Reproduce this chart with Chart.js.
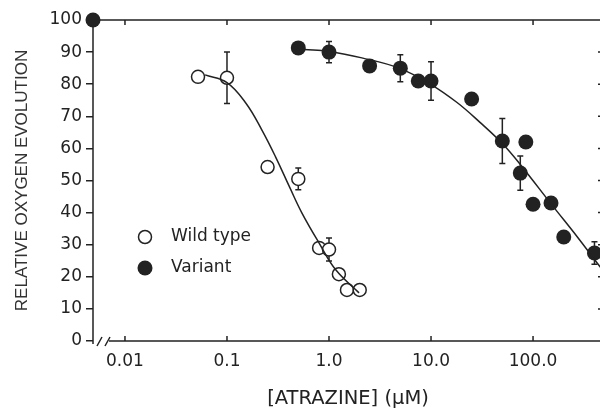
<!DOCTYPE html>
<html>
<head>
<meta charset="utf-8">
<script src="https://cdn.jsdelivr.net/npm/chart.js@4"></script>
<style>
  html, body { margin: 0; padding: 0; background: #fff; overflow: hidden; }
  #wrap { width: 600px; height: 412px; overflow: hidden; }
</style>
</head>
<body>
<div id="wrap"><canvas id="atrazineChart" width="611" height="412"></canvas></div>
<script>
// -- Axis ranges and ticks --
const xMin = 0.00486
const xMax = 485
const xTicks = [0.01, 0.1, 1, 10, 100]
const xTickLabels = ["0.01", "0.1", "1.0", "10.0", "100.0"]
const yTicks = [0, 10, 20, 30, 40, 50, 60, 70, 80, 90, 100]

// -- Measured points --
const wildX = [0.052, 0.1, 0.25, 0.5, 0.8, 1.0, 1.25, 1.5, 2.0]
const wildY = [82.3, 82, 54.2, 50.5, 29, 28.5, 20.8, 15.9, 15.9]
const wildErr = [0, 8, 0, 3.4, 0, 3.6, 0, 0, 0]

// first variant point is the no-atrazine control, plotted on the axis
const variantX = [xMin, 0.5, 1.0, 2.5, 5, 7.5, 10, 25, 50, 85, 75, 100, 150, 200, 400]
const variantY = [100, 91.3, 90, 85.7, 85, 81, 81, 75.4, 62.3, 62, 52.3, 42.6, 43, 32.4, 27.4]
const variantErr = [0, 0, 3.3, 0, 4.2, 0, 6, 0, 7, 0, 5.3, 0, 0, 0, 3.5]

// -- Fitted curves --
const wildFitX = [0.061, 0.1, 0.154, 0.22, 0.30, 0.41, 0.54, 0.80, 1.17, 1.97]
const wildFitY = [82.9, 80.5, 74, 65.7, 57.3, 48, 40, 30.5, 22.1, 15]
const variantFitX = [0.57, 1.0, 2.1, 4.86, 10, 18, 30, 50.8, 78, 153, 272, 425, 485]
const variantFitY = [90.8, 90.2, 88.2, 85, 79.9, 74.3, 68.2, 61.3, 54.3, 42.4, 32.4, 24.3, 22]

const ink = "#222"
const font = "'DejaVu Sans', sans-serif"

let toPoints = function(xs, ys) {
  return xs.map((x, i) => ({ x: x, y: ys[i] }))
}

// -- Plugins --
let errorBars = {
  id: "errorBars",
  beforeDatasetsDraw(chart) {
    const { ctx, scales: { x, y } } = chart
    ctx.save()
    ctx.strokeStyle = ink
    ctx.lineWidth = 1.5
    let draw = function(xs, ys, errs) {
      errs.forEach((e, i) => {
        if (!e) return
        let px = x.getPixelForValue(xs[i])
        let top = y.getPixelForValue(ys[i] + e)
        let bot = y.getPixelForValue(ys[i] - e)
        ctx.beginPath()
        ctx.moveTo(px, top); ctx.lineTo(px, bot)
        ctx.moveTo(px - 3, top); ctx.lineTo(px + 3, top)
        ctx.moveTo(px - 3, bot); ctx.lineTo(px + 3, bot)
        ctx.stroke()
      })
    }
    draw(wildX, wildY, wildErr)
    draw(variantX, variantY, variantErr)
    ctx.restore()
  }
}

let frame = {
  id: "frame",
  beforeDatasetsDraw(chart) {
    const { ctx, chartArea: a, scales: { x, y } } = chart
    ctx.save()
    ctx.strokeStyle = ink
    ctx.lineWidth = 1.5
    ctx.beginPath()
    // top, right, left
    ctx.moveTo(a.left, a.top); ctx.lineTo(a.right, a.top)
    ctx.lineTo(a.right, a.bottom)
    ctx.moveTo(a.left, a.top); ctx.lineTo(a.left, a.bottom + 3)
    // bottom with axis break
    ctx.moveTo(a.left + 16, a.bottom); ctx.lineTo(a.right, a.bottom)
    ctx.moveTo(a.left + 4, a.bottom + 5); ctx.lineTo(a.left + 9, a.bottom - 4)
    ctx.moveTo(a.left + 12, a.bottom + 5); ctx.lineTo(a.left + 17, a.bottom - 4)
    // inward ticks
    for (let v of xTicks) {
      let px = x.getPixelForValue(v)
      ctx.moveTo(px, a.bottom); ctx.lineTo(px, a.bottom - 5)
      ctx.moveTo(px, a.top); ctx.lineTo(px, a.top + 5)
    }
    for (let v of yTicks) {
      let py = y.getPixelForValue(v)
      ctx.moveTo(a.right, py); ctx.lineTo(a.right - 5, py)
    }
    ctx.stroke()
    ctx.restore()
  }
}

let legendBox = {
  id: "legendBox",
  afterDraw(chart) {
    const { ctx, chartArea: a } = chart
    let mx = a.left + 52
    ctx.save()
    ctx.strokeStyle = ink
    ctx.fillStyle = ink
    ctx.lineWidth = 1.5
    ctx.beginPath()
    ctx.arc(mx, 237, 6.5, 0, Math.PI * 2)
    ctx.stroke()
    ctx.beginPath()
    ctx.arc(mx, 268, 7.5, 0, Math.PI * 2)
    ctx.fill()
    ctx.font = "17px " + font
    ctx.textBaseline = "middle"
    ctx.fillText("Wild type", mx + 26, 237)
    ctx.fillText("Variant", mx + 26, 268)
    ctx.restore()
  }
}

// -- Chart --
let ctx = document.getElementById("atrazineChart")
let chart = new Chart(ctx, {
  type: "scatter",
  data: {
    datasets: [
      {
        label: "Wild type fit",
        type: "line",
        data: toPoints(wildFitX, wildFitY),
        borderColor: ink,
        borderWidth: 1.5,
        pointRadius: 0,
        tension: 0.4,
        order: 0
      },
      {
        label: "Variant fit",
        type: "line",
        data: toPoints(variantFitX, variantFitY),
        borderColor: ink,
        borderWidth: 1.5,
        pointRadius: 0,
        tension: 0.4,
        order: 0
      },
      {
        label: "Wild type",
        data: toPoints(wildX, wildY),
        pointRadius: 6.5,
        pointBorderWidth: 1.5,
        pointBorderColor: ink,
        pointBackgroundColor: "#fff",
        order: 1
      },
      {
        label: "Variant",
        data: toPoints(variantX, variantY),
        pointRadius: 7.5,
        pointBorderWidth: 0,
        pointBackgroundColor: ink,
        clip: false,
        order: 1
      }
    ]
  },
  options: {
    responsive: false,
    animation: false,
    devicePixelRatio: 1,
    layout: { padding: { top: 20, right: 3, left: 0, bottom: 0 } },
    plugins: {
      legend: { display: false },
      tooltip: { enabled: false }
    },
    scales: {
      x: {
        type: "logarithmic",
        min: xMin,
        max: xMax,
        afterBuildTicks: scale => { scale.ticks = xTicks.map(v => ({ value: v })) },
        afterFit: scale => { scale.height = 71 },
        grid: { display: false, drawTicks: false },
        border: { display: false },
        ticks: {
          autoSkip: false,
          maxRotation: 0,
          padding: 10,
          color: ink,
          font: { family: font, size: 17 },
          callback: v => xTickLabels[xTicks.indexOf(v)]
        },
        title: {
          display: true,
          text: "[ATRAZINE] (μM)",
          color: ink,
          font: { family: font, size: 19.5 },
          padding: { top: 0, bottom: 1 }
        }
      },
      y: {
        type: "linear",
        min: 0,
        max: 100,
        afterFit: scale => { scale.width = 93 },
        grid: { drawOnChartArea: false, tickLength: 7, color: ink, lineWidth: 1.5 },
        border: { display: false },
        ticks: {
          stepSize: 10,
          padding: 4,
          color: ink,
          font: { family: font, size: 17 }
        },
        title: {
          display: true,
          text: "RELATIVE OXYGEN EVOLUTION",
          color: "#333",
          font: { family: "'Liberation Sans', Arial, sans-serif", size: 17 },
          padding: { top: 12, bottom: 0 }
        }
      }
    }
  },
  plugins: [frame, errorBars, legendBox]
})
</script>
</body>
</html>
